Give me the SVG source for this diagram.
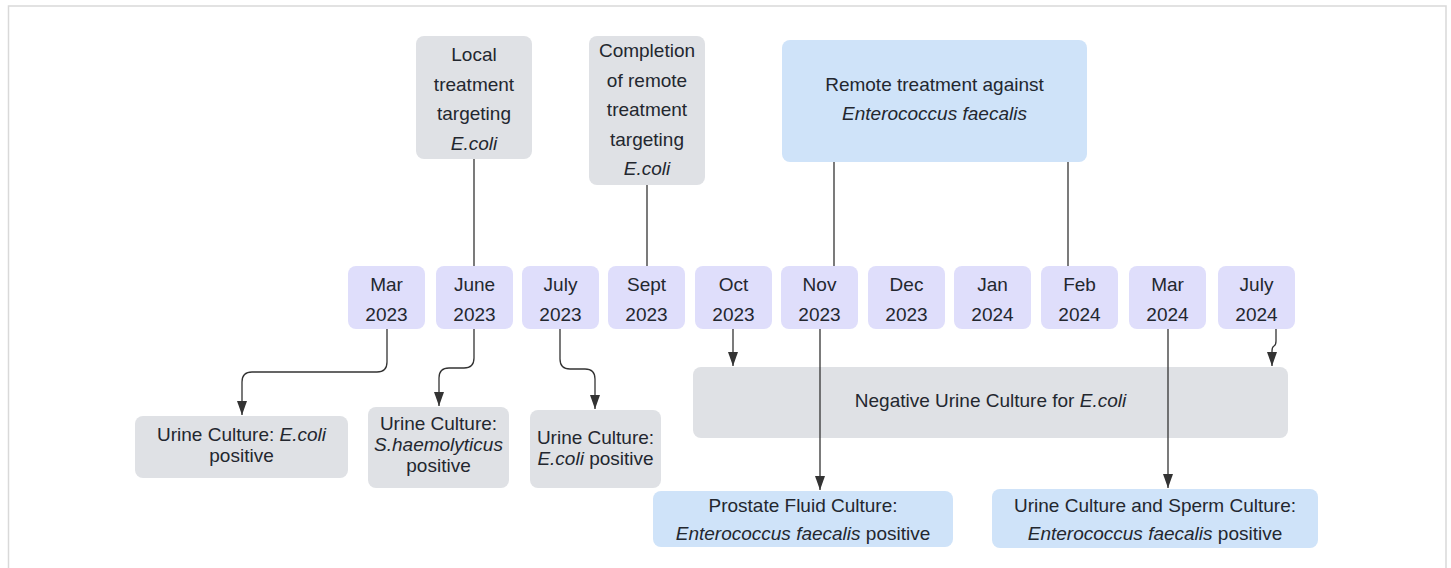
<svg xmlns="http://www.w3.org/2000/svg" width="1451" height="568" viewBox="0 0 1451 568">
<style>
  text { font-family: "Liberation Sans", Arial, sans-serif; font-size: 19px; fill: #23272f; text-anchor: middle; }
  .i { font-style: italic; }
  .date { fill: #dfdefb; }
  .gray { fill: #dfe1e5; }
  .blue { fill: #cfe3f9; }
  .ln { fill: none; stroke: #333; stroke-width: 1.3; }
  .frame { fill: none; stroke: #d9d9d9; stroke-width: 1.5; }
</style>
<defs>
  <marker id="arr" viewBox="0 0 14 10" refX="14" refY="5" markerWidth="14" markerHeight="10" markerUnits="userSpaceOnUse" orient="auto">
    <path d="M0,0 L14,5 L0,10 z" fill="#333"/>
  </marker>
</defs>
<rect x="0" y="0" width="1451" height="568" fill="#ffffff"/>
<rect class="frame" x="8.5" y="6" width="1437.5" height="620"/>

<g id="local-treatment">
  <rect class="gray" x="416" y="36" width="116" height="123" rx="8"/>
  <text x="474" y="61">Local</text>
  <text x="474" y="90.5">treatment</text>
  <text x="474" y="120">targeting</text>
  <text x="474" y="149.5" class="i">E.coli</text>
</g>
<g id="completion-remote">
  <rect class="gray" x="589" y="36" width="116" height="149" rx="8"/>
  <text x="647" y="57">Completion</text>
  <text x="647" y="86.5">of remote</text>
  <text x="647" y="116">treatment</text>
  <text x="647" y="145.5">targeting</text>
  <text x="647" y="175" class="i">E.coli</text>
</g>
<g id="remote-enterococcus">
  <rect class="blue" x="782" y="40" width="305" height="122" rx="8"/>
  <text x="934.5" y="91">Remote treatment against</text>
  <text x="934.5" y="120" class="i">Enterococcus faecalis</text>
</g>

<g id="d-mar2023"><rect class="date" x="348" y="266" width="77" height="63" rx="8"/><text x="386.5" y="291">Mar</text><text x="386.5" y="321">2023</text></g>
<g id="d-jun2023"><rect class="date" x="436" y="266" width="77" height="63" rx="8"/><text x="474.5" y="291">June</text><text x="474.5" y="321">2023</text></g>
<g id="d-jul2023"><rect class="date" x="522" y="266" width="77" height="63" rx="8"/><text x="560.5" y="291">July</text><text x="560.5" y="321">2023</text></g>
<g id="d-sep2023"><rect class="date" x="608" y="266" width="77" height="63" rx="8"/><text x="646.5" y="291">Sept</text><text x="646.5" y="321">2023</text></g>
<g id="d-oct2023"><rect class="date" x="695" y="266" width="77" height="63" rx="8"/><text x="733.5" y="291">Oct</text><text x="733.5" y="321">2023</text></g>
<g id="d-nov2023"><rect class="date" x="781" y="266" width="77" height="63" rx="8"/><text x="819.5" y="291">Nov</text><text x="819.5" y="321">2023</text></g>
<g id="d-dec2023"><rect class="date" x="868" y="266" width="77" height="63" rx="8"/><text x="906.5" y="291">Dec</text><text x="906.5" y="321">2023</text></g>
<g id="d-jan2024"><rect class="date" x="954" y="266" width="77" height="63" rx="8"/><text x="992.5" y="291">Jan</text><text x="992.5" y="321">2024</text></g>
<g id="d-feb2024"><rect class="date" x="1041" y="266" width="77" height="63" rx="8"/><text x="1079.5" y="291">Feb</text><text x="1079.5" y="321">2024</text></g>
<g id="d-mar2024"><rect class="date" x="1129" y="266" width="77" height="63" rx="8"/><text x="1167.5" y="291">Mar</text><text x="1167.5" y="321">2024</text></g>
<g id="d-jul2024"><rect class="date" x="1218" y="266" width="77" height="63" rx="8"/><text x="1256.5" y="291">July</text><text x="1256.5" y="321">2024</text></g>

<g id="urine-ecoli-1">
  <rect class="gray" x="135" y="416" width="213" height="62" rx="8"/>
  <text x="241.5" y="441">Urine Culture: <tspan class="i">E.coli</tspan></text>
  <text x="241.5" y="462">positive</text>
</g>
<g id="urine-shaemolyticus">
  <rect class="gray" x="368" y="407" width="141" height="81" rx="8"/>
  <text x="438.5" y="430">Urine Culture:</text>
  <text x="438.5" y="451" class="i">S.haemolyticus</text>
  <text x="438.5" y="472">positive</text>
</g>
<g id="urine-ecoli-2">
  <rect class="gray" x="530" y="410" width="131" height="78" rx="8"/>
  <text x="595.5" y="444">Urine Culture:</text>
  <text x="595.5" y="465"><tspan class="i">E.coli</tspan> positive</text>
</g>
<g id="negative-urine">
  <rect class="gray" x="693" y="367" width="595" height="71" rx="8"/>
  <text x="990.5" y="407">Negative Urine Culture for <tspan class="i">E.coli</tspan></text>
</g>
<g id="prostate-fluid">
  <rect class="blue" x="653" y="491" width="300" height="56" rx="8"/>
  <text x="803" y="512">Prostate Fluid Culture:</text>
  <text x="803" y="540"><tspan class="i">Enterococcus faecalis</tspan> positive</text>
</g>
<g id="urine-sperm">
  <rect class="blue" x="992" y="489" width="326" height="59" rx="8"/>
  <text x="1155" y="512">Urine Culture and Sperm Culture:</text>
  <text x="1155" y="540"><tspan class="i">Enterococcus faecalis</tspan> positive</text>
</g>

<g id="connectors">
  <path class="ln" d="M474,159 V266"/>
  <path class="ln" d="M647,185 V266"/>
  <path class="ln" d="M834,162 V266"/>
  <path class="ln" d="M1068,162 V266"/>
  <path class="ln" marker-end="url(#arr)" d="M387,329 V362 Q387,372 377,372 H252 Q242,372 242,382 V415"/>
  <path class="ln" marker-end="url(#arr)" d="M474,329 V358 Q474,368 464,368 H449 Q439,368 439,378 V406"/>
  <path class="ln" marker-end="url(#arr)" d="M560,329 V359 Q560,369 570,369 H585 Q595,369 595,379 V409"/>
  <path class="ln" marker-end="url(#arr)" d="M733,329 V366"/>
  <path class="ln" marker-end="url(#arr)" d="M820,329 V490"/>
  <path class="ln" marker-end="url(#arr)" d="M1168,329 V488"/>
  <path class="ln" marker-end="url(#arr)" d="M1276,329 V341 Q1276,345 1274,346 Q1272,347 1272,351 V366"/>
</g>
</svg>
